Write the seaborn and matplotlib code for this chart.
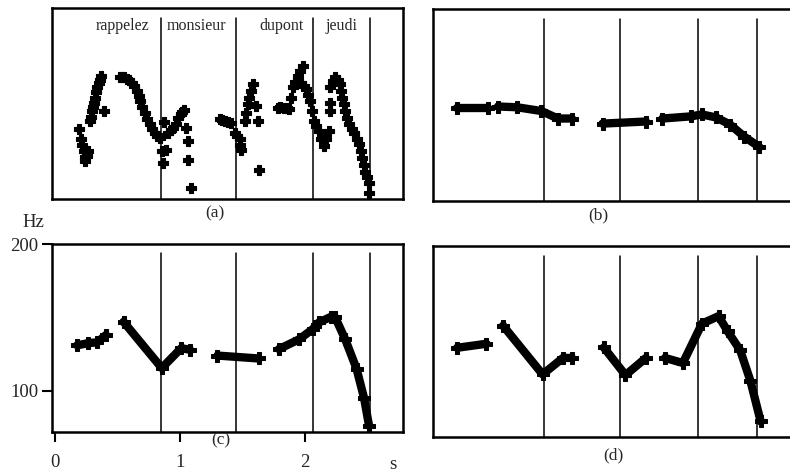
import numpy as np
import pandas as pd
import matplotlib
matplotlib.use("Agg")
import matplotlib.pyplot as plt
import seaborn as sns

# word boundaries (s) and word labels for the utterance
boundaries = [0.85, 1.45, 2.06, 2.52]
words = ["rappelez", "monsieur", "dupont", "jeudi"]
word_pos = [0.54, 1.13, 1.81, 2.29]

# (a) raw F0 measurements (s, Hz)
a_time = [0.193, 0.21, 0.22, 0.233, 0.24, 0.246, 0.264, 0.255,
          0.286, 0.29, 0.299, 0.305, 0.312, 0.322, 0.333, 0.342, 0.352, 0.36, 0.37,
          0.39,
          0.524, 0.54, 0.555, 0.577, 0.595, 0.616, 0.635, 0.656, 0.67, 0.683, 0.70,
          0.722, 0.74, 0.762, 0.78, 0.80, 0.82, 0.84,
          0.855, 0.89, 0.863, 0.873,
          0.907, 0.925, 0.947, 0.965, 0.987, 1.005, 1.03, 1.02,
          1.05, 1.066, 1.066, 1.085,
          1.317, 1.337, 1.357, 1.385, 1.41, 1.437, 1.455, 1.476, 1.49, 1.483,
          1.516, 1.528, 1.54, 1.555, 1.57, 1.587,
          1.61, 1.62, 1.635,
          1.78, 1.80, 1.83, 1.855, 1.873, 1.89, 1.905, 1.92, 1.94, 1.96, 1.98,
          1.966, 1.99, 2.01, 2.025, 2.04, 2.055, 2.07, 2.09, 2.11, 2.13, 2.15, 2.17, 2.19,
          2.20, 2.22, 2.24, 2.26, 2.275, 2.285, 2.296, 2.31, 2.32, 2.335, 2.35, 2.37,
          2.39, 2.41, 2.43, 2.445, 2.455, 2.47, 2.48, 2.495, 2.51, 2.51,
          2.195, 2.195]
a_f0 = [118.7, 112, 108, 104, 100, 97.3, 104, 101,
        124.3, 127, 131, 134, 136.7, 140, 143.5, 147, 150, 152, 154.7,
        131,
        153.6, 154, 153.5, 152.5, 151.5, 150, 147.5, 144.6, 141, 137.8, 134,
        130, 126, 122, 119, 116.4, 114.5, 113,
        104, 104.7, 96, 124,
        116.4, 118, 119.8, 122.5, 126.6, 129, 132, 130.5,
        119.8, 110.8, 98.4, 79.3,
        125.5, 124.8, 124.3, 123.5, 123, 116.4, 114, 112, 105.2, 108,
        124.3, 130, 135.6, 140, 144.6, 149,
        134.5, 124.3, 91.7,
        133.3, 133.5, 133.3, 133, 132.2, 140, 146.8, 150.5, 154.7, 158, 161.5,
        150, 148, 145.7, 141.5, 137.8, 131, 124.3, 121, 117.6, 112, 107.4, 112, 117.6,
        146.8, 151, 153.6, 151.5, 149, 144.5, 140, 135.5, 131, 126.5, 122, 119,
        116.4, 112.5, 108.6, 104, 99.5, 95, 90.5, 86.5, 82.6, 76,
        136.7, 131]

# (b) monotone resynthesis, one list per voiced stretch
b_time = [[0.165, 0.41],
          [0.49, 0.64, 0.83, 0.96, 1.07],
          [1.31, 1.65],
          [1.78, 2.0, 2.09, 2.20, 2.31, 2.42, 2.54]]
b_f0 = [[133.8, 133.8],
        [135, 134.5, 132, 127, 127],
        [123.6, 125],
        [127, 128.4, 129.7, 127.7, 123, 115, 108]]

# (c) stylised contour
c_time = [[0.18, 0.27, 0.34, 0.41],
          [0.55, 0.855, 1.01, 1.08],
          [1.30, 1.63],
          [1.79, 1.95, 2.06, 2.11, 2.21, 2.24, 2.32, 2.41, 2.47, 2.51]]
c_f0 = [[131, 132.5, 133, 138],
        [147, 115.5, 129, 128],
        [124, 122],
        [128.4, 135, 142, 146.6, 150.6, 150, 135, 115, 95, 76]]

# (d) modified contour
d_time = [[0.17, 0.40],
          [0.53, 0.84, 1.0, 1.07],
          [1.32, 1.49, 1.65],
          [1.80, 1.94, 2.09, 2.22, 2.29, 2.39, 2.47, 2.55]]
d_f0 = [[131.8, 134.5],
        [146.6, 114, 125, 125],
        [132, 113.5, 125],
        [125, 121.6, 148, 153, 143, 130, 109.5, 82.5]]

sns.set_style("white")
plt.rcParams["font.family"] = ["Liberation Serif", "DejaVu Serif"]

fig = plt.figure(figsize=(7.9, 4.73), dpi=100)
ax_a = fig.add_axes([0.066, 0.579, 0.444, 0.404])
ax_b = fig.add_axes([0.548, 0.575, 0.452, 0.406])
ax_c = fig.add_axes([0.066, 0.087, 0.444, 0.397])
ax_d = fig.add_axes([0.548, 0.076, 0.452, 0.404])

for ax in [ax_a, ax_b, ax_c, ax_d]:
    ax.set_xlim(-0.02, 2.78)
    ax.set_ylim(72, 200)
    for side, sp in ax.spines.items():
        sp.set_color("black")
        sp.set_linewidth(1.8)
    for xb in boundaries:
        ax.axvline(xb, ymin=0, ymax=0.95, color="black", linewidth=1.1)

for ax in [ax_b, ax_d]:
    ax.spines["right"].set_visible(False)

# panel a: individual measurements
sns.scatterplot(x=a_time, y=a_f0, ax=ax_a, marker="P", s=50, color="black",
                edgecolor="black", linewidth=0.8)
for w, xw in zip(words, word_pos):
    ax_a.text(xw, 188, w, ha="center", va="center", fontsize=11.5)

# panels b, c, d: dense measurements drawn as thick contours
for ax, times, f0s in [(ax_b, b_time, b_f0), (ax_c, c_time, c_f0), (ax_d, d_time, d_f0)]:
    for t, f in zip(times, f0s):
        seg = pd.DataFrame({"t": t, "f": f})
        sns.lineplot(data=seg, x="t", y="f", ax=ax, color="black", linewidth=6,
                     sort=False, estimator=None, marker="P", markersize=8,
                     markeredgecolor="black", solid_capstyle="round",
                     solid_joinstyle="round")

for ax in [ax_a, ax_b, ax_c, ax_d]:
    ax.set_xlabel("")
    ax.set_ylabel("")

for ax in [ax_a, ax_b, ax_d]:
    ax.set_xticks([])
    ax.set_yticks([])

ax_c.set_xticks([0, 1, 2])
ax_c.set_xticklabels(["0", "1", "2"], fontsize=13.5)
ax_c.set_yticks([100, 200])
ax_c.set_yticklabels(["100", "200"], fontsize=13.5)
ax_c.tick_params(axis="both", direction="out", length=7, width=1.5, color="black",
                 bottom=True, left=True, pad=3)
ax_c.tick_params(axis="x", pad=9)

fig.text(0.028, 0.530, "Hz", fontsize=13.5, ha="left", va="center")
fig.text(0.497, 0.017, "s", fontsize=13.5, ha="center", va="center")
fig.text(0.272, 0.549, "(a)", fontsize=12.5, ha="center", va="center")
fig.text(0.757, 0.545, "(b)", fontsize=12.5, ha="center", va="center")
fig.text(0.279, 0.068, "(c)", fontsize=12.5, ha="center", va="center")
fig.text(0.777, 0.038, "(d)", fontsize=12.5, ha="center", va="center")

fig.savefig("out.png", dpi=100)
